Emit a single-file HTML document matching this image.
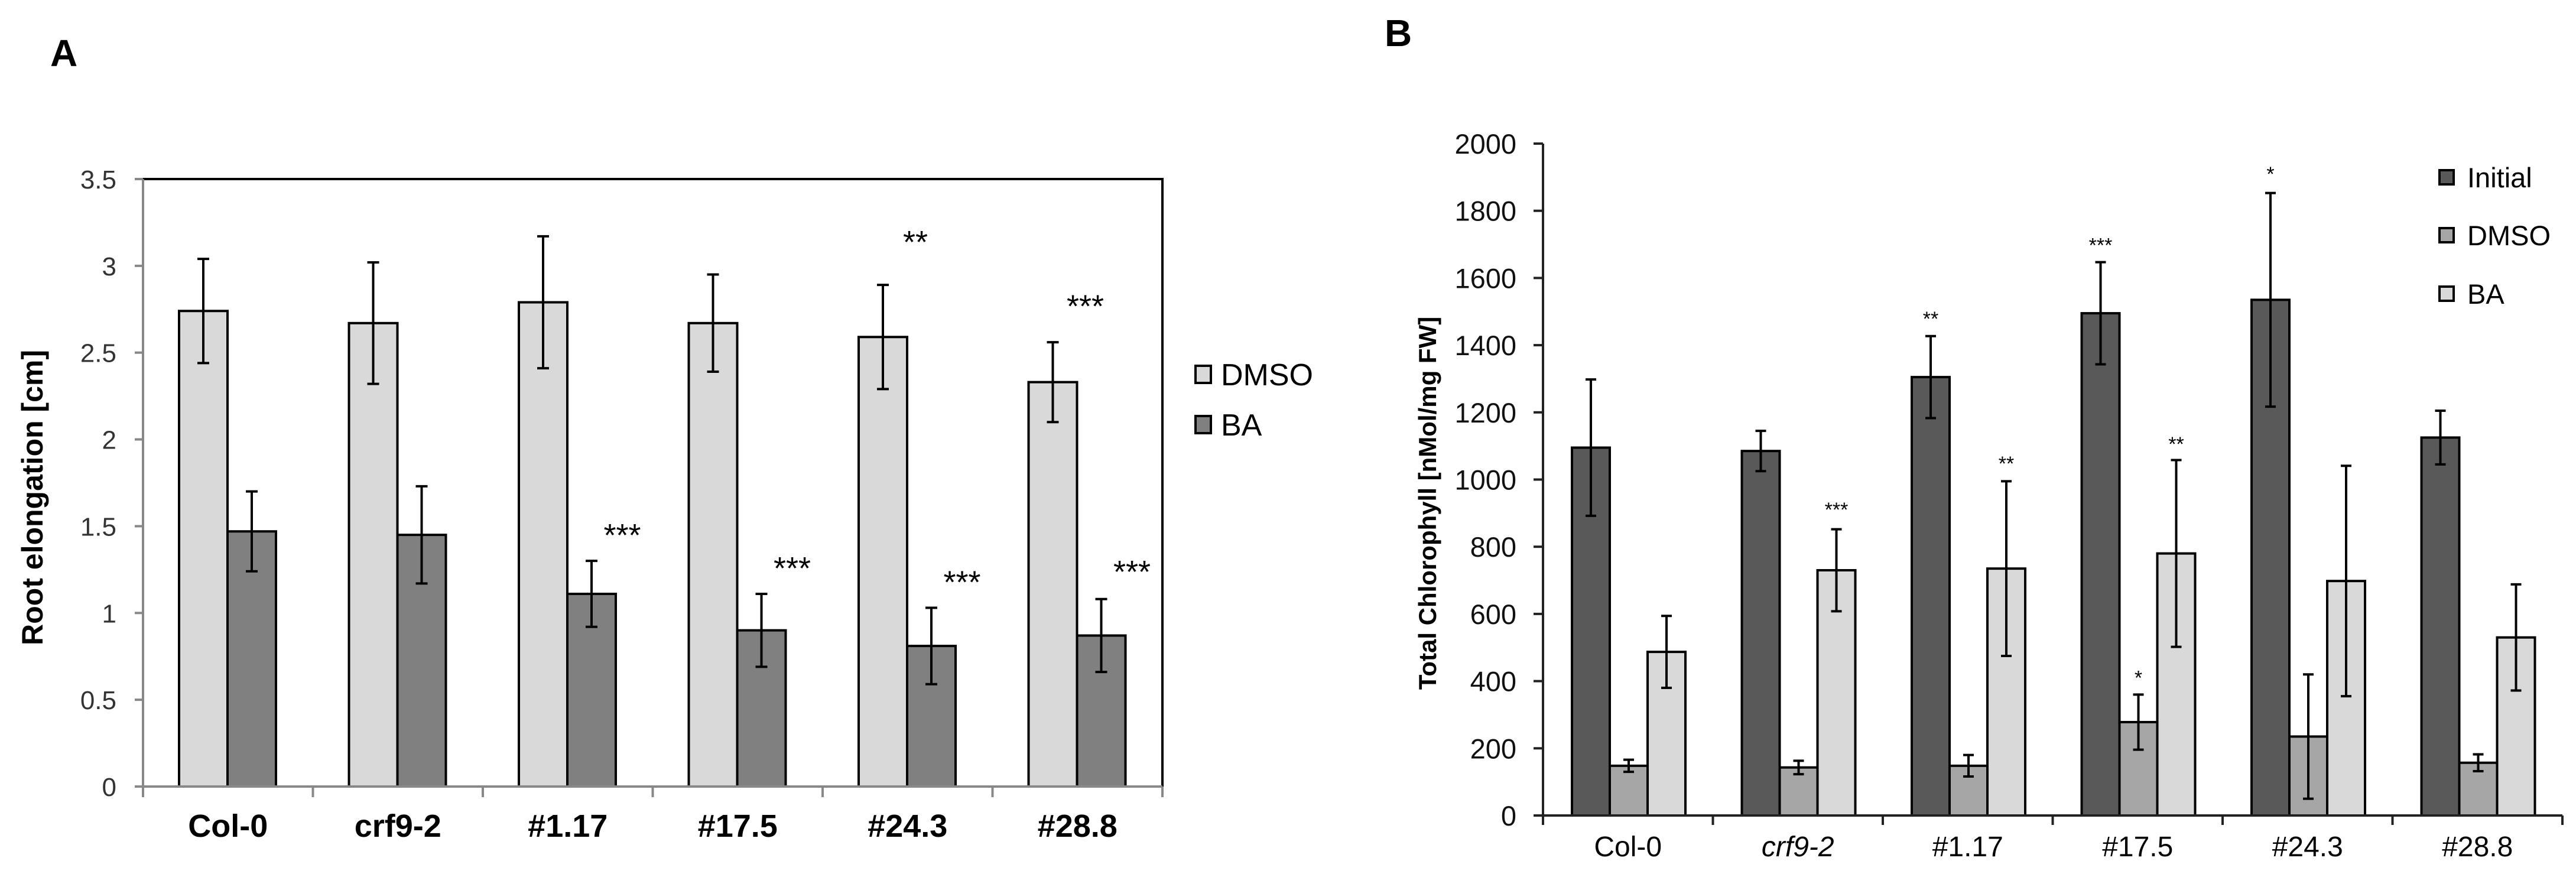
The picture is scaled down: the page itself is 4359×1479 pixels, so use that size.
<!DOCTYPE html>
<html><head><meta charset="utf-8">
<style>
html,body{margin:0;padding:0;background:#fff;}
svg{display:block;}
text{font-family:"Liberation Sans",Arial,sans-serif;}
</style></head>
<body>
<svg id="fig" width="4359" height="1479" viewBox="0 0 4359 1479" xmlns="http://www.w3.org/2000/svg">
  <text x="85" y="112" font-size="64" font-weight="bold">A</text>
  <text x="2343" y="78" font-size="64" font-weight="bold">B</text>
  <g id="chartA"></g>
  <g id="chartB"></g>
</svg>
<script>
// ---------- Chart A data ----------
const catsA = ["Col-0","crf9-2","#1.17","#17.5","#24.3","#28.8"];
const dmsoA = [2.74,2.67,2.79,2.67,2.59,2.33];
const dmsoErrA = [0.30,0.35,0.38,0.28,0.30,0.23];
const baA = [1.47,1.45,1.11,0.90,0.81,0.87];
const baErrA = [0.23,0.28,0.19,0.21,0.22,0.21];
const ticksA = [0,0.5,1,1.5,2,2.5,3,3.5];
const tickLabelsA = ["0","0.5","1","1.5","2","2.5","3","3.5"];
const starDmsoA = ["","","","","**","***"];
const starDmsoPosA = [0,0,0,0,3.15,2.78];
const starBaA = ["","","***","***","***","***"];
const starBaPosA = [0,0,1.46,1.27,1.19,1.25];

// ---------- Chart B data ----------
const catsB = ["Col-0","crf9-2","#1.17","#17.5","#24.3","#28.8"];
const initB = [1095,1085,1305,1495,1535,1125];
const initErrB = [203,60,122,152,318,80];
const dmsoB = [148,143,148,278,235,157];
const dmsoErrB = [18,20,32,82,185,25];
const baB = [487,730,735,780,698,530];
const baErrB = [107,122,260,278,343,158];
const ticksB = [0,200,400,600,800,1000,1200,1400,1600,1800,2000];
const starInitB = ["","","**","***","*",""];
const starInitPosB = [0,0,1483,1702,1914,0];
const starDmsoB = ["","","","*","",""];
const starDmsoPosB = [0,0,0,414,0,0];
const starBaB = ["","***","**","**","",""];
const starBaPosB = [0,915,1052,1110,0,0];

const NS="http://www.w3.org/2000/svg";
function mk(parent,tag,attrs,txt){const e=document.createElementNS(NS,tag);for(const k in attrs)e.setAttribute(k,attrs[k]);if(txt!==undefined)e.textContent=txt;parent.appendChild(e);return e;}

// ---------- Draw A ----------
(function(){
  const g=document.getElementById('chartA');
  const L=242,R=1967,T=303,B=1331,ymax=3.5;
  const y=v=>B-(v/ymax)*(B-T);
  const step=(R-L)/catsA.length, bw=82, off=61;
  // frame top/right
  let fr=mk(g,'path',{d:`M${L} ${T} H${R} V${B}`,fill:'none',stroke:'#000','stroke-width':4});
  
  
  ticksA.forEach((t,i)=>{
    let tl=mk(g,'line',{x1:L-14,x2:L,y1:y(t),y2:y(t),stroke:'#888','stroke-width':4});
    
    
    let tx=mk(g,'text',{x:197,y:y(t)+16,'font-size':44,'text-anchor':'end',fill:'#333'},tickLabelsA[i]);
    
    
  });
  catsA.forEach((c,i)=>{
    const x0=L+i*step;
    let tk=mk(g,'line',{x1:x0+step,x2:x0+step,y1:B,y2:B+18,stroke:'#888','stroke-width':4});
    
    
    [[dmsoA,dmsoErrA,'#d9d9d9','bar-dmso'],[baA,baErrA,'#808080','bar-ba']].forEach((s,j)=>{
      const bx=x0+off+j*bw, v=s[0][i], e=s[1][i];
      let r=mk(g,'rect',{x:bx,y:y(v),width:bw,height:B-y(v),fill:s[2],stroke:'#000','stroke-width':4});
      
      
      const cx=bx+bw/2;
      let eb=mk(g,'path',{d:`M${cx} ${y(v+e)} V${y(v-e)} M${cx-10} ${y(v+e)} H${cx+10} M${cx-10} ${y(v-e)} H${cx+10}`,stroke:'#000','stroke-width':4,fill:'none'});
      
      
    });
    if(starDmsoA[i]){let s=mk(g,'text',{x:x0+off+bw/2+55,y:y(starDmsoPosA[i])+22,'font-size':54,'text-anchor':'middle'},starDmsoA[i]);
      
      }
    if(starBaA[i]){let s=mk(g,'text',{x:x0+off+bw*1.5+52,y:y(starBaPosA[i])+22,'font-size':54,'text-anchor':'middle'},starBaA[i]);
      
      }
    let lb=mk(g,'text',{x:x0+step/2,y:1416,'font-size':54,'font-weight':'bold','text-anchor':'middle'},c);
    
    
  });
  let ax=mk(g,'path',{d:`M${L} ${T} V${B+18} M${L-14} ${B} H${R}`,stroke:'#888','stroke-width':4,fill:'none'});
  
  
  let yt=mk(g,'text',{x:0,y:0,'font-size':50,'font-weight':'bold','text-anchor':'middle',transform:`translate(72,${(T+B)/2+25}) rotate(-90)`},'Root elongation [cm]');
  
  
  [['DMSO','#d9d9d9',633],['BA','#808080',718]].forEach(l=>{
    let gg=mk(g,'g',{});
    
    
    mk(gg,'rect',{x:2023,y:l[2]-14,width:26,height:29,fill:l[1],stroke:'#000','stroke-width':4});
    mk(gg,'text',{x:2066,y:l[2]+19,'font-size':52},l[0]);
  });
})();

// ---------- Draw B ----------
(function(){
  const g=document.getElementById('chartB');
  const L=2611,R=4336,T=243,B=1380,ymax=2000;
  const y=v=>B-(v/ymax)*(B-T);
  const step=(R-L)/catsB.length, bw=64, off=49;
  ticksB.forEach(t=>{
    let tl=mk(g,'line',{x1:L-16,x2:L,y1:y(t),y2:y(t),stroke:'#222','stroke-width':4});
    
    
    let tx=mk(g,'text',{x:2566,y:y(t)+17,'font-size':47,'text-anchor':'end',fill:'#111'},String(t));
    
    
  });
  const series=[[initB,initErrB,'#595959','bar-initial',starInitB,starInitPosB],[dmsoB,dmsoErrB,'#a6a6a6','bar-dmso',starDmsoB,starDmsoPosB],[baB,baErrB,'#d9d9d9','bar-ba',starBaB,starBaPosB]];
  catsB.forEach((c,i)=>{
    const x0=L+i*step;
    let tk=mk(g,'line',{x1:x0+step,x2:x0+step,y1:B,y2:B+16,stroke:'#222','stroke-width':4});
    
    
    series.forEach((s,j)=>{
      const bx=x0+off+j*bw, v=s[0][i], e=s[1][i];
      let r=mk(g,'rect',{x:bx,y:y(v),width:bw,height:B-y(v),fill:s[2],stroke:'#000','stroke-width':4});
      
      
      const cx=bx+bw/2;
      let eb=mk(g,'path',{d:`M${cx} ${y(v+e)} V${y(v-e)} M${cx-9} ${y(v+e)} H${cx+9} M${cx-9} ${y(v-e)} H${cx+9}`,stroke:'#000','stroke-width':4,fill:'none'});
      
      
      if(s[4][i]){let st=mk(g,'text',{x:cx,y:y(s[5][i])+14,'font-size':34,'text-anchor':'middle'},s[4][i]);
        
        }
    });
    let lb=mk(g,'text',{x:x0+step/2,y:1449,'font-size':48,'text-anchor':'middle','font-style':i===1?'italic':'normal'},c);
    
    
  });
  let ax=mk(g,'path',{d:`M${L} ${T} V${B+16} M${L-16} ${B} H${R}`,stroke:'#222','stroke-width':4,fill:'none'});
  
  
  let yt=mk(g,'text',{x:0,y:0,'font-size':42,'font-weight':'bold','text-anchor':'middle',transform:`translate(2430,${(T+B)/2+40}) rotate(-90)`},'Total Chlorophyll [nMol/mg FW]');
  
  
  [['Initial','#595959',300],['DMSO','#a6a6a6',398],['BA','#d9d9d9',497]].forEach(l=>{
    let gg=mk(g,'g',{});
    
    
    mk(gg,'rect',{x:4128,y:l[2]-12,width:24,height:24,fill:l[1],stroke:'#000','stroke-width':4});
    mk(gg,'text',{x:4175,y:l[2]+17,'font-size':47},l[0]);
  });
})();
</script>
</body></html>
